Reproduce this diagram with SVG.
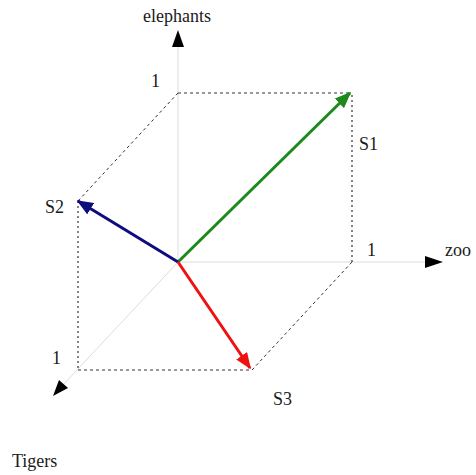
<svg xmlns="http://www.w3.org/2000/svg" width="476" height="475" viewBox="0 0 476 475">
<defs>
<style>
.t{font-family:"Liberation Serif",serif;font-size:18px;fill:#1a1a1a}
.ax{stroke:#dcdcdc;stroke-width:1;fill:none}
.dash{stroke:#333;stroke-width:1;stroke-dasharray:3,3;fill:none}
.dot{stroke:#333;stroke-width:1.2;stroke-dasharray:2,3;fill:none}
.vec{stroke-width:3;fill:none}
</style>
<marker id="mg" viewBox="0 0 10 8" refX="9" refY="4" markerWidth="5.5" markerHeight="4.4" orient="auto" markerUnits="strokeWidth"><path d="M0,0L10,4L0,8z" fill="#1b8a1b"/></marker>
<marker id="mb" viewBox="0 0 10 8" refX="9" refY="4" markerWidth="5.5" markerHeight="4.4" orient="auto" markerUnits="strokeWidth"><path d="M0,0L10,4L0,8z" fill="#0d0d80"/></marker>
<marker id="mr" viewBox="0 0 10 8" refX="9" refY="4" markerWidth="5.5" markerHeight="4.4" orient="auto" markerUnits="strokeWidth"><path d="M0,0L10,4L0,8z" fill="#f01010"/></marker>
</defs>
<g id="axes">
<line class="ax" x1="178" y1="262" x2="178" y2="45"/>
<polygon points="178,30 172,47 184,47" fill="#000"/>
<line class="ax" x1="178" y1="262" x2="428" y2="262"/>
<polygon points="443,262 425,256 425,268" fill="#000"/>
<line class="ax" x1="178" y1="262" x2="62" y2="386"/>
<polygon points="53,396 59,380 68,388" fill="#000"/>
</g>
<g id="box">
<line class="dash" x1="178" y1="93" x2="350" y2="93"/>
<line class="dash" x1="178" y1="93" x2="78" y2="201"/>
<line class="dot" x1="78" y1="201" x2="78" y2="370"/>
<line class="dash" x1="78" y1="370" x2="252" y2="370"/>
<line class="dash" x1="252" y1="370" x2="352" y2="262"/>
<line class="dot" x1="352" y1="262" x2="352" y2="93"/>
</g>
<g id="connectors">
<line class="vec" stroke="#1b8a1b" x1="178" y1="262" x2="350" y2="93" marker-end="url(#mg)"/>
<line class="vec" stroke="#0d0d80" x1="178" y1="262" x2="78" y2="201" marker-end="url(#mb)"/>
<line class="vec" stroke="#f01010" x1="178" y1="262" x2="250" y2="368" marker-end="url(#mr)"/>
</g>
<g id="labels">
<text class="t" x="177" y="22" text-anchor="middle">elephants</text>
<text class="t" x="151" y="87">1</text>
<text class="t" x="359" y="150">S1</text>
<text class="t" x="45" y="213">S2</text>
<text class="t" x="367" y="256">1</text>
<text class="t" x="445" y="256">zoo</text>
<text class="t" x="52" y="364">1</text>
<text class="t" x="273" y="405">S3</text>
<text class="t" x="12" y="467">Tigers</text>
</g>
</svg>
